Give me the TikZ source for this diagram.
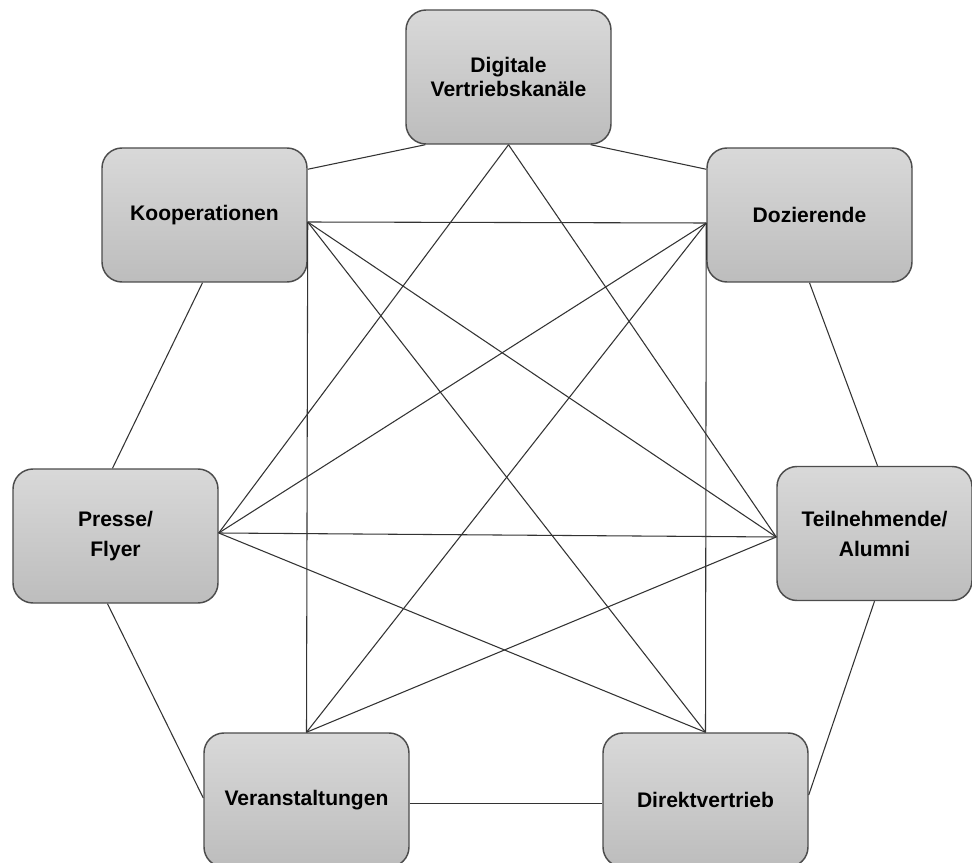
\documentclass[tikz,border=0pt]{standalone}
\usepackage{fontspec}
\setmainfont{Liberation Sans}
\usetikzlibrary{calc}
\begin{document}
\begin{tikzpicture}[x=0.75pt,y=-0.75pt,
  feld/.style={draw=black!70, line width=1.1pt, rounded corners=15pt, top color=gray!30, bottom color=gray!52,
    minimum width=153.75pt, minimum height=100.5pt, inner sep=0pt, align=center,
    font=\fontsize{15.8}{22.5}\selectfont\bfseries},
  linie/.style={draw=black!80, line width=0.8pt}]
\useasboundingbox (0,0) rectangle (972,863);

\node(Dig)[feld, font=\fontsize{15.8}{17.6}\selectfont\bfseries] at (508.5,77) {Digitale\\Vertriebskanäle};
\node(Koop)[feld] at (204.5,215) {Kooperationen};
\node(Doz)[feld] at (809.5,215) {Dozierende};
\node(Presse)[feld] at (115.5,536) {Presse/\\Flyer};
\node(Teil)[feld, minimum width=146.25pt] at (874.5,533.5) {Teilnehmende/\\Alumni};
\node(Veran)[feld] at (306.5,800) {Veranstaltungen};
\node(Direkt)[feld] at (705.5,800) {Direktvertrieb};

% Knotenpunkte der Querverbindungen
\coordinate(KoopH) at ($(Koop.east)+(0,7)$);
\coordinate(DozH) at ($(Doz.west)+(0,8)$);
\coordinate(PresseH) at ($(Presse.east)+(0,-3)$);
\coordinate(TeilH) at ($(Teil.west)+(0,3.5)$);

% aeusserer Ring
\draw[linie] ($(Dig.south west)+(20,0)$) edge ($(Koop.north east)+(0,22)$);
\draw[linie] ($(Dig.south east)+(-21,0)$) edge ($(Doz.north west)+(0,22)$);
\draw[linie] ($(Koop.south)+(-2,0)$) edge ($(Presse.north)+(-3,0)$);
\draw[linie] (Doz.south) edge ($(Teil.north)+(3,0)$);
\draw[linie] ($(Presse.south)+(-8,0)$) edge ($(Veran.west)+(0,-2)$);
\draw[linie] (Teil.south) edge ($(Direkt.east)+(0,-5)$);
\draw[linie] ($(Veran.east)+(0,3.5)$) edge ($(Direkt.west)+(0,3.5)$);

% Querverbindungen
\draw[linie] (KoopH) edge (DozH);
\draw[linie] (KoopH) edge (TeilH);
\draw[linie] (KoopH) edge (Direkt.north);
\draw[linie] (KoopH) edge (Veran.north);
\draw[linie] (DozH) edge (PresseH);
\draw[linie] (DozH) edge (Veran.north);
\draw[linie] (DozH) edge (Direkt.north);
\draw[linie] (Dig.south) edge (PresseH);
\draw[linie] (Dig.south) edge (TeilH);
\draw[linie] (PresseH) edge (TeilH);
\draw[linie] (PresseH) edge (Direkt.north);
\draw[linie] (TeilH) edge (Veran.north);
\end{tikzpicture}
\end{document}
